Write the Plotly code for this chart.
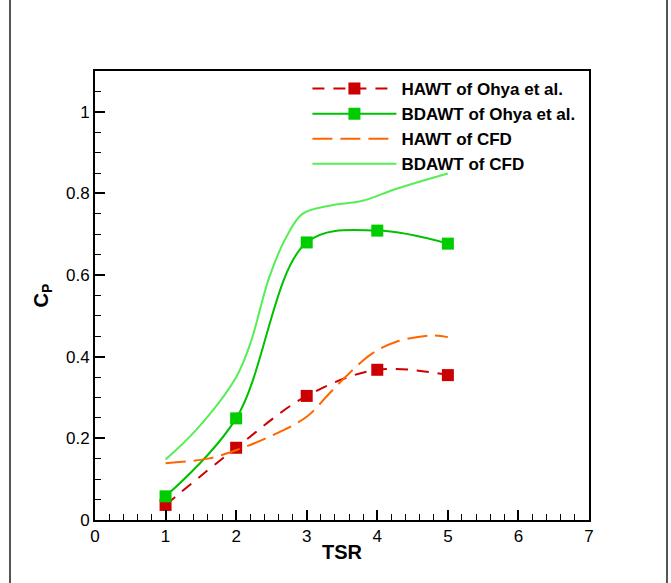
import plotly.graph_objects as go

# Experimental data (Ohya et al.)
tsr_exp = [1, 2, 3, 4, 5]
hawt_ohya = [0.037, 0.177, 0.304, 0.368, 0.355]
bdawt_ohya = [0.058, 0.249, 0.680, 0.709, 0.677]

# CFD curves
tsr_cfd_hawt = [1.0, 1.62, 2.0, 2.47, 3.0, 3.32, 3.60, 3.93, 4.26, 4.74, 5.0]
hawt_cfd = [0.139, 0.151, 0.171, 0.204, 0.253, 0.310, 0.359, 0.408, 0.436, 0.452, 0.448]

tsr_cfd_bdawt = [1.0, 1.43, 2.0, 2.2, 2.47, 2.71, 2.94, 3.32, 3.79, 4.26, 5.0]
bdawt_cfd = [0.148, 0.220, 0.350, 0.432, 0.595, 0.693, 0.750, 0.770, 0.782, 0.811, 0.849]

FONT = "Liberation Sans, Arial, sans-serif"

fig = go.Figure()
fig.add_trace(go.Scatter(
    x=tsr_exp, y=hawt_ohya, name="HAWT of Ohya et al.",
    mode="lines+markers", line=dict(color="#cc0000", width=2, dash="12px,9px", shape="spline"),
    marker=dict(symbol="square", size=12, color="#cc0000")))
fig.add_trace(go.Scatter(
    x=tsr_exp, y=bdawt_ohya, name="BDAWT of Ohya et al.",
    mode="lines+markers", line=dict(color="#00c000", width=2, shape="spline"),
    marker=dict(symbol="square", size=12, color="#00cc00")))
fig.add_trace(go.Scatter(
    x=tsr_cfd_hawt, y=hawt_cfd, name="HAWT of CFD",
    mode="lines", line=dict(color="#ff6600", width=2, dash="20px,8px", shape="spline")))
fig.add_trace(go.Scatter(
    x=tsr_cfd_bdawt, y=bdawt_cfd, name="BDAWT of CFD",
    mode="lines", line=dict(color="#55ee55", width=2, shape="spline")))

axis_common = dict(
    showgrid=False, zeroline=False, showline=True, linecolor="black", linewidth=2,
    mirror=True, ticks="inside", tickcolor="black", tickwidth=2, ticklen=10,
    tickfont=dict(family=FONT, size=17, color="black"),
)
fig.update_xaxes(range=[0, 7], dtick=1, tick0=0,
                 minor=dict(dtick=0.2, ticks="inside", ticklen=6, tickcolor="black", tickwidth=1),
                 title=dict(text="<b>TSR</b>", font=dict(family=FONT, size=20, color="black"), standoff=0),
                 **axis_common)
fig.update_yaxes(range=[0, 1.1], dtick=0.2, tick0=0,
                 minor=dict(dtick=0.05, ticks="inside", ticklen=6, tickcolor="black", tickwidth=1),
                 title=dict(text="<b>C<sub>P</sub></b>", font=dict(family=FONT, size=20, color="black"), standoff=12),
                 **axis_common)

# page border lines
for xp in [(10 - 95) / 494, (667 - 95) / 494]:
    fig.add_shape(type="line", xref="paper", yref="paper", x0=xp, x1=xp,
                  y0=-63 / 449, y1=1 + 71 / 449, line=dict(color="#555555", width=2))

fig.update_layout(
    width=671, height=583,
    margin=dict(l=95, r=82, t=71, b=63),
    paper_bgcolor="white", plot_bgcolor="white",
    font=dict(family=FONT, color="black"),
    showlegend=True,
    legend=dict(x=0.43, y=1.0, xanchor="left", yanchor="top",
                bgcolor="rgba(0,0,0,0)", borderwidth=0,
                font=dict(family=FONT, size=17, color="black", weight="bold"),
                itemwidth=84, tracegroupgap=0),
)

fig.write_html("out.html")
